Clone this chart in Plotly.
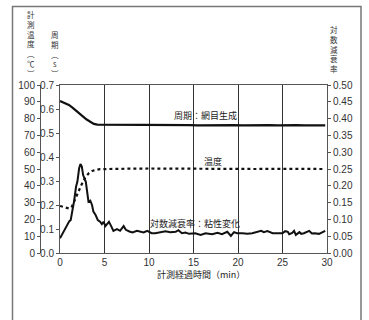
import plotly.graph_objects as go

# ---- data ----
x_ticks = [0, 5, 10, 15, 20, 25, 30]

# 周期 (s) — left inner axis
period_x = [0, 0.3, 0.6, 1.0, 1.4, 1.8, 2.2, 2.6, 3.0, 3.4, 3.8, 4.2, 4.8, 5.5, 6.5, 7.5,
            8.5, 9.5, 10.5, 11.5, 12.5, 13.5, 14.5, 15.5, 16.5, 17.5, 18.5, 19.5, 20.5,
            21.5, 22.5, 23.5, 24.5, 25.5, 26.5, 27.5, 28.5, 29.8]
period_y = [0.633, 0.628, 0.623, 0.617, 0.606, 0.592, 0.580, 0.568, 0.556, 0.546, 0.538,
            0.535, 0.535, 0.536, 0.535, 0.534, 0.535, 0.536, 0.534, 0.533, 0.534, 0.535,
            0.533, 0.532, 0.533, 0.534, 0.533, 0.533, 0.532, 0.533, 0.534, 0.533, 0.532,
            0.534, 0.533, 0.532, 0.533, 0.532]

# 計測温度 (℃) — left outer axis
temp_x = [0, 0.5, 1.0, 1.3, 1.6, 2.0, 2.4, 2.8, 3.2, 3.6, 4.0, 4.5, 5, 6, 8, 10, 12, 14,
          16, 18, 20, 22, 24, 26, 28, 29.8]
temp_y = [28, 27.3, 26.5, 27.2, 31, 36, 40.5, 44.5, 47.3, 48.8, 49.5, 49.9, 50, 50.1, 50.2,
          50.3, 50.2, 50.1, 50.2, 50.2, 50.1, 50.0, 50.1, 50.0, 50.0, 50.0]

# 対数減衰率 — right axis
logdec_x = [0, 0.38, 0.75, 1.05, 1.2, 1.4, 1.6, 1.8, 1.95, 2.15, 2.3, 2.45, 2.6, 2.9, 3.1,
            3.2, 3.4, 3.6, 3.75, 4.0, 4.25, 4.5, 4.7, 4.9, 5.1, 5.25, 5.5, 5.75, 6.0, 6.4,
            6.75, 7.15, 7.4, 7.8, 8.15, 8.65, 9.0, 9.4, 9.8, 10.3, 10.7, 11.0, 11.3, 11.85,
            12.4, 13.0, 13.3, 13.7, 14.1, 14.5, 15.2, 15.8, 16.35, 16.7, 17.1, 17.7, 18.2,
            18.8, 19.2, 19.55, 19.9, 20.5, 21.05, 21.6, 22.2, 22.6, 22.9, 23.3, 23.9, 24.4,
            25.0, 25.3, 25.6, 25.75, 26.1, 26.3, 26.5, 26.9, 27.1, 27.4, 28.0, 28.3, 28.6,
            29.1, 29.4, 29.8]
logdec_y = [0.044, 0.064, 0.084, 0.095, 0.098, 0.123, 0.157, 0.197, 0.212, 0.252, 0.265,
            0.257, 0.232, 0.212, 0.163, 0.153, 0.156, 0.143, 0.123, 0.113, 0.098, 0.093,
            0.086, 0.093, 0.080, 0.086, 0.093, 0.080, 0.066, 0.071, 0.066, 0.080, 0.069,
            0.064, 0.061, 0.066, 0.064, 0.061, 0.066, 0.059, 0.059, 0.061, 0.062, 0.065,
            0.062, 0.063, 0.068, 0.059, 0.061, 0.057, 0.059, 0.054, 0.059, 0.057, 0.056,
            0.060, 0.056, 0.063, 0.051, 0.062, 0.059, 0.059, 0.057, 0.059, 0.063, 0.066,
            0.062, 0.065, 0.059, 0.060, 0.059, 0.065, 0.063, 0.056, 0.060, 0.066, 0.054,
            0.062, 0.057, 0.059, 0.066, 0.058, 0.059, 0.057, 0.061, 0.066]

NUM_FONT = "Liberation Sans Narrow, Arial Narrow, Liberation Sans, Arial, sans-serif"
JP_FONT = "Noto Sans CJK JP, sans-serif"
TICK_COLOR = "#333"
LINE_COLOR = "#555"

fig = go.Figure()
fig.add_trace(go.Scatter(x=period_x, y=period_y, mode="lines", yaxis="y",
                         line=dict(color="#111", width=2.2), showlegend=False))
fig.add_trace(go.Scatter(x=temp_x, y=temp_y, mode="lines", yaxis="y2",
                         line=dict(color="#111", width=2.2, dash="3px,3px"), showlegend=False))
fig.add_trace(go.Scatter(x=logdec_x, y=logdec_y, mode="lines", yaxis="y3",
                         line=dict(color="#111", width=2), showlegend=False))

W, H = 369, 320
ML, MR, MT, MB = 40, 42, 85, 67
pw = W - ML - MR
ph = H - MT - MB

def px_x(p):
    return (p - ML) / pw

def px_y(p):
    return (H - MB - p) / ph

fig.update_layout(
    width=W, height=H,
    margin=dict(l=ML, r=MR, t=MT, b=MB, pad=0),
    paper_bgcolor="white", plot_bgcolor="white",
    font=dict(family=NUM_FONT, size=9, color=TICK_COLOR),
    xaxis=dict(domain=[px_x(60), 1], range=[0, 30], tickvals=x_ticks,
               showgrid=True, gridcolor="#333", gridwidth=1, zeroline=False,
               showline=True, linecolor=LINE_COLOR, linewidth=1, mirror=True,
               ticks="", tickfont=dict(size=10, color=TICK_COLOR)),
    yaxis=dict(range=[0, 0.7], dtick=0.1, tickformat=".1f", showgrid=False, zeroline=False,
               showline=True, linecolor=LINE_COLOR, linewidth=1, ticks="outside",
               ticklen=3, tickcolor=LINE_COLOR, anchor="x", side="left",
               tickfont=dict(size=10, color=TICK_COLOR)),
    yaxis2=dict(range=[0, 100], dtick=10, showgrid=False, zeroline=False,
                showline=True, linecolor=LINE_COLOR, linewidth=1, ticks="outside",
                ticklen=3, tickcolor=LINE_COLOR, overlaying="y", anchor="free",
                position=0, side="left", tickfont=dict(size=10, color=TICK_COLOR)),
    yaxis3=dict(range=[0, 0.5], dtick=0.05, tickformat=".2f", showgrid=False, zeroline=False,
                showline=True, linecolor=LINE_COLOR, linewidth=1, ticks="outside",
                ticklen=3, tickcolor=LINE_COLOR, overlaying="y", anchor="x", side="right",
                tickfont=dict(size=10, color=TICK_COLOR)),
)

# outer frame
fig.add_shape(type="rect", xref="paper", yref="paper",
              x0=px_x(12.5), x1=px_x(361), y0=px_y(340), y1=px_y(6.5),
              line=dict(color="#777", width=1.5), fillcolor="rgba(0,0,0,0)", layer="below")

def vtitle(text, cx, bottom):
    fig.add_annotation(text=text, xref="paper", yref="paper", x=px_x(cx), y=px_y(bottom),
                       xanchor="center", yanchor="bottom", showarrow=False,
                       font=dict(family=JP_FONT, size=7.5, color="#333"))

vtitle("計<br>測<br>温<br>度<br>︵<br>℃<br>︶", 30.5, 81)
vtitle("周<br>期<br>︵<br>s<br>︶", 55, 81)
vtitle("対<br>数<br>減<br>衰<br>率", 334, 76)

def label(text, x, y):
    fig.add_annotation(text=text, x=x, y=y, xref="x", yref="y", showarrow=False,
                       xanchor="center", yanchor="middle",
                       font=dict(family=JP_FONT, size=9, color="#222"))

label("周期：網目生成", 16.35, 0.575)
label("温度", 17.2, 0.383)
label("対数減衰率：粘性変化", 15.2, 0.125)

fig.add_annotation(text="計測経過時間（min）", xref="x", yref="paper", x=15.85, y=px_y(274),
                   xanchor="center", yanchor="middle", showarrow=False,
                   font=dict(family=JP_FONT, size=9, color="#222"))

fig.write_html("out.html")
